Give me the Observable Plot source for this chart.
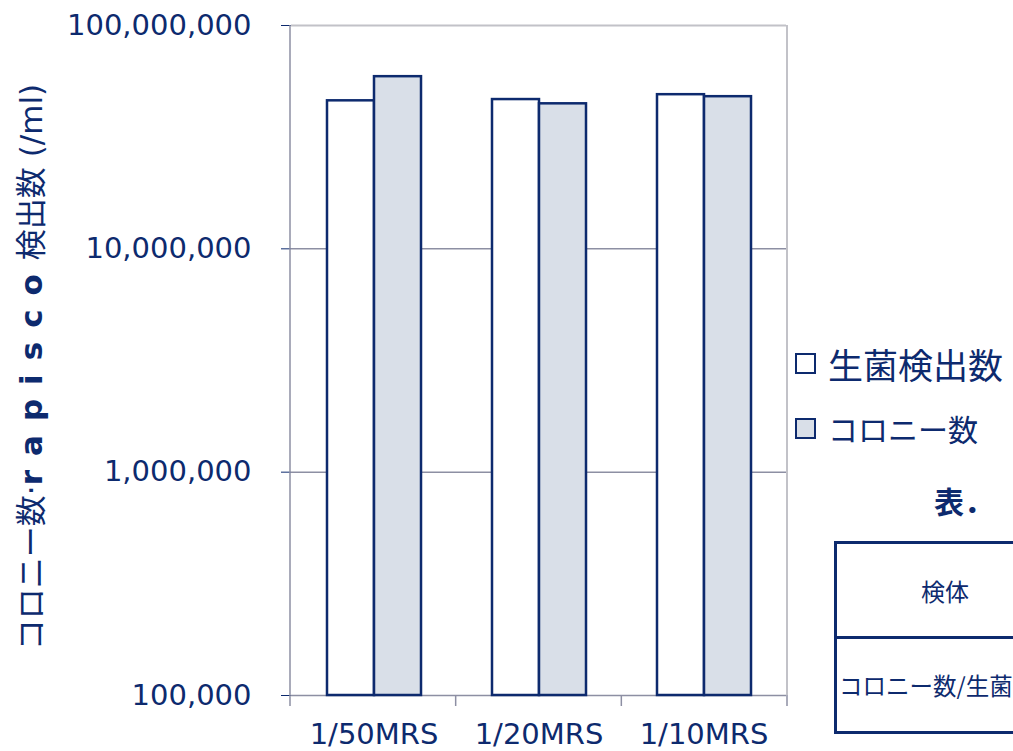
<!DOCTYPE html>
<html>
<head>
<meta charset="utf-8">
<script src="https://cdn.jsdelivr.net/npm/d3@7"></script>
<script src="https://cdn.jsdelivr.net/npm/@observablehq/plot@0.6"></script>
<style>
  html, body { margin: 0; padding: 0; background: #ffffff; overflow: hidden; }
  #wrap { position: relative; width: 1013px; height: 751px; overflow: hidden; font-family: "DejaVu Sans", "Noto Sans CJK JP", sans-serif; color: #0d2a6e; }
  #chart { position: absolute; left: 0; top: 0; }
  #chart svg g[aria-label="y-axis tick"] { stroke: #8d8fa3; }
  .legend-item { position: absolute; left: 795px; display: flex; align-items: center; white-space: nowrap; }
  .swatch { width: 17px; height: 17px; border: 2px solid #0d2a6e; box-sizing: content-box; margin-right: 12px; }
  #tabletitle { position: absolute; left: 934px; top: 478px; font-size: 30px; font-weight: bold; white-space: nowrap; font-family: "Noto Sans CJK JP", sans-serif; }
  #tbl { position: absolute; left: 834px; top: 541px; width: 400px; border: 3px solid #0d2a6e; box-sizing: border-box; }
  #tbl .row { height: 92px; display: flex; align-items: center; white-space: nowrap; font-size: 24px; font-family: "Noto Sans CJK JP", sans-serif; }
  #tbl .row + .row { border-top: 3px solid #0d2a6e; }
  #tbl .cell { width: 216px; }
</style>
</head>
<body>
<div id="wrap">
  <div id="chart"></div>
  <div id="legend"></div>
  <div id="tabletitle"></div>
  <div id="tbl"></div>
</div>
<script>
const groups = ["1/50MRS", "1/20MRS", "1/10MRS"];
const series = ["生菌検出数", "コロニー数"];
const viableCounts = [4.6e7, 4.66e7, 4.9e7];
const colonyCounts = [5.9e7, 4.46e7, 4.8e7];
const yTicks = [1e5, 1e6, 1e7, 1e8];
const seriesFill = ["#ffffff", "#d9dfe8"];
const yLabelParts = ["コロニー数·", "rapisco", "検出数 (/ml)"];
const tableTitle = "表．";
const tableRows = ["検体", "コロニー数/生菌"];

const navy = "#0d2a6e";
const gridColor = "#8d8fa3";
const borderColor = "#c2c2c8";

const data = groups.flatMap((g, i) => [
  {group: g, series: series[0], value: viableCounts[i]},
  {group: g, series: series[1], value: colonyCounts[i]}
]);

const chart = Plot.plot({
  width: 1013,
  height: 751,
  marginLeft: 290,
  marginRight: 226,
  marginTop: 25,
  marginBottom: 56,
  style: {fontFamily: "'DejaVu Sans', 'Noto Sans CJK JP', sans-serif", fontSize: "29px", color: navy, background: "transparent", overflow: "visible"},
  fx: {domain: groups, padding: 0, label: null, axis: "bottom", tickSize: 0, tickPadding: 28},
  x: {domain: series, paddingInner: 0, paddingOuter: 0.744, axis: null},
  y: {type: "log", domain: [yTicks[0], yTicks[yTicks.length - 1]], ticks: yTicks, tickFormat: d3.format(","), tickSize: 10, tickPadding: 30, label: null},
  color: {domain: series, range: seriesFill},
  marks: [
    Plot.ruleY(yTicks.slice(0, 3), {stroke: gridColor, strokeWidth: 1.5}),
    Plot.ruleY(yTicks.slice(3), {stroke: borderColor, strokeWidth: 2}),
    Plot.barY(data, {fx: "group", x: "series", y1: yTicks[0], y2: "value", fill: "series", stroke: navy, strokeWidth: 2.5})
  ]
});
document.getElementById("chart").appendChild(chart);

// extra axis lines and boundary ticks from the library's scales
const fxs = chart.scale("fx");
const band = d3.scaleBand().domain(fxs.domain).range(fxs.range)
  .paddingInner(fxs.paddingInner ?? 0).paddingOuter(fxs.paddingOuter ?? 0).align(fxs.align ?? 0.5);
const ys = chart.scale("y");
const yScale = d3.scaleLog().domain(ys.domain).range(ys.range);
const yBottom = yScale(yTicks[0]);
const yTop = yScale(yTicks[yTicks.length - 1]);
const edges = Array.from(new Set(groups.flatMap(g => [band(g), band(g) + band.bandwidth()])));
const svg = d3.select(chart);
const xl = edges[0], xr = edges[edges.length - 1];
svg.append("line").attr("x1", xr).attr("x2", xr).attr("y1", yTop).attr("y2", yBottom).attr("stroke", borderColor).attr("stroke-width", 2);
svg.append("line").attr("x1", xl).attr("x2", xl).attr("y1", yTop).attr("y2", yBottom).attr("stroke", gridColor).attr("stroke-width", 1.5);
svg.selectAll("line.edge").data(edges).join("line").attr("class", "edge")
  .attr("x1", d => d).attr("x2", d => d).attr("y1", yBottom).attr("y2", yBottom + 11)
  .attr("stroke", gridColor).attr("stroke-width", 1.5);

// y label with mixed weight
const lab = svg.append("text")
  .attr("transform", `translate(31,${(yTop + yBottom) / 2 + 7}) rotate(-90)`)
  .attr("text-anchor", "middle").attr("dominant-baseline", "central")
  .attr("fill", navy).attr("font-size", 31)
  .attr("font-family", "'DejaVu Sans', 'Noto Sans CJK JP', sans-serif");
lab.append("tspan").text(yLabelParts[0]);
lab.append("tspan").text(yLabelParts[1]).attr("font-weight", "bold").attr("letter-spacing", 14);
lab.append("tspan").text(yLabelParts[2]);

// legend
const legend = document.getElementById("legend");
const legendTops = [341, 406];
const legendSizes = [35, 30];
series.forEach((s, i) => {
  const item = document.createElement("div");
  item.className = "legend-item";
  item.style.top = legendTops[i] + "px";
  item.style.height = "44px";
  const sw = document.createElement("div");
  sw.className = "swatch";
  sw.style.background = seriesFill[i];
  const t = document.createElement("span");
  t.textContent = s;
  t.style.fontSize = legendSizes[i] + "px";
  t.style.fontFamily = "'Noto Sans CJK JP', sans-serif";
  item.appendChild(sw);
  item.appendChild(t);
  legend.appendChild(item);
});

// table
document.getElementById("tabletitle").textContent = tableTitle;
const tbl = document.getElementById("tbl");
tableRows.forEach((r, i) => {
  const row = document.createElement("div");
  row.className = "row";
  const c = document.createElement("div");
  c.className = "cell";
  c.textContent = r;
  if (i === 0) { c.style.textAlign = "center"; } else { c.style.paddingLeft = "2px"; c.style.fontSize = "23.5px"; }
  row.appendChild(c);
  tbl.appendChild(row);
});
</script>
</body>
</html>
